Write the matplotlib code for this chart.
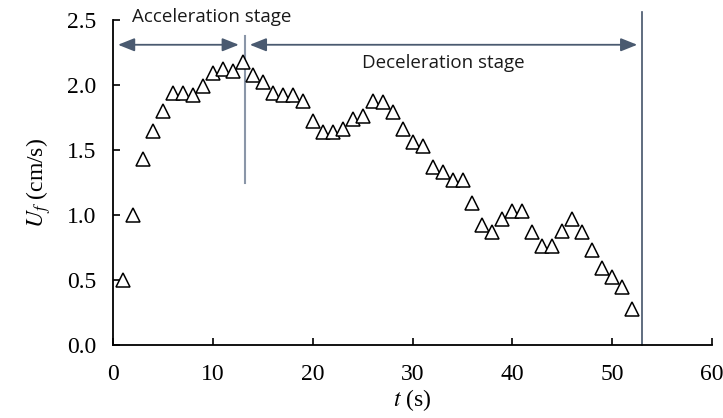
import numpy as np
import matplotlib
matplotlib.use('Agg')
import matplotlib.pyplot as plt

# time (s) and friction velocity U_f (cm/s)
t = np.arange(1, 53)
uf = [0.50, 1.00, 1.43, 1.65, 1.80, 1.94, 1.94, 1.92, 1.99, 2.09,
      2.12, 2.11, 2.18, 2.08, 2.02, 1.94, 1.92, 1.92, 1.88, 1.72,
      1.64, 1.64, 1.66, 1.74, 1.76, 1.88, 1.87, 1.79, 1.66, 1.56,
      1.53, 1.37, 1.33, 1.27, 1.27, 1.09, 0.92, 0.87, 0.97, 1.03,
      1.03, 0.87, 0.76, 0.76, 0.88, 0.97, 0.87, 0.73, 0.59, 0.52,
      0.45, 0.28]

xticks = [0, 10, 20, 30, 40, 50, 60]
yticks = [0.0, 0.5, 1.0, 1.5, 2.0, 2.5]

# stage limits
t_peak = 13.2
t_end = 53.0

plt.rcParams['font.family'] = 'Liberation Serif'
plt.rcParams['mathtext.fontset'] = 'stix'

fig = plt.figure(figsize=(7.23, 4.18), dpi=100)
ax = fig.add_axes([0.1563, 0.1746, 0.985 - 0.1563, 0.952 - 0.1746])

ax.plot(t, uf, linestyle='none', marker='^', ms=9.5, mfc='white',
        mec='black', mew=1.1, clip_on=False, zorder=3)

ax.set_xlim(0, 60)
ax.set_ylim(0, 2.5)
ax.set_xticks(xticks)
ax.set_yticks(yticks)
ax.set_yticklabels(['%.1f' % v for v in yticks])
ax.tick_params(direction='in', length=5, width=1.2, labelsize=17, pad=12)
ax.tick_params(axis='x', pad=14)

for s in ['top', 'right']:
    ax.spines[s].set_visible(False)
for s in ['left', 'bottom']:
    ax.spines[s].set_linewidth(1.3)

ax.set_xlabel(r'$t$ (s)', fontsize=17, labelpad=1)
ax.set_ylabel(r'$U_f$ (cm/s)', fontsize=17, labelpad=10)

# stage markers
ax.plot([t_peak, t_peak], [1.25, 2.38], color='#8a96a8', lw=1.5, zorder=2)
ax.plot([t_end, t_end], [0, 2.56], color='#44546a', lw=1.2, clip_on=False, zorder=2)

arrow_col = '#4a5a70'
ax.annotate('', xy=(0.5, 2.31), xytext=(12.6, 2.31),
            arrowprops=dict(arrowstyle='<|-|>,head_length=1.0,head_width=0.4',
                            color=arrow_col, lw=1.3, shrinkA=0, shrinkB=0),
            annotation_clip=False)
ax.annotate('', xy=(13.7, 2.31), xytext=(52.5, 2.31),
            arrowprops=dict(arrowstyle='<|-|>,head_length=1.0,head_width=0.4',
                            color=arrow_col, lw=1.3, shrinkA=0, shrinkB=0),
            annotation_clip=False)

ax.text(1.9, 2.52, 'Acceleration stage', fontsize=13.5, family='Open Sans',
        ha='left', va='center', color='#1a1a1a', clip_on=False)
ax.text(24.9, 2.17, 'Deceleration stage', fontsize=13.5, family='Open Sans',
        ha='left', va='center', color='#1a1a1a')

fig.savefig('out.png', dpi=100)
